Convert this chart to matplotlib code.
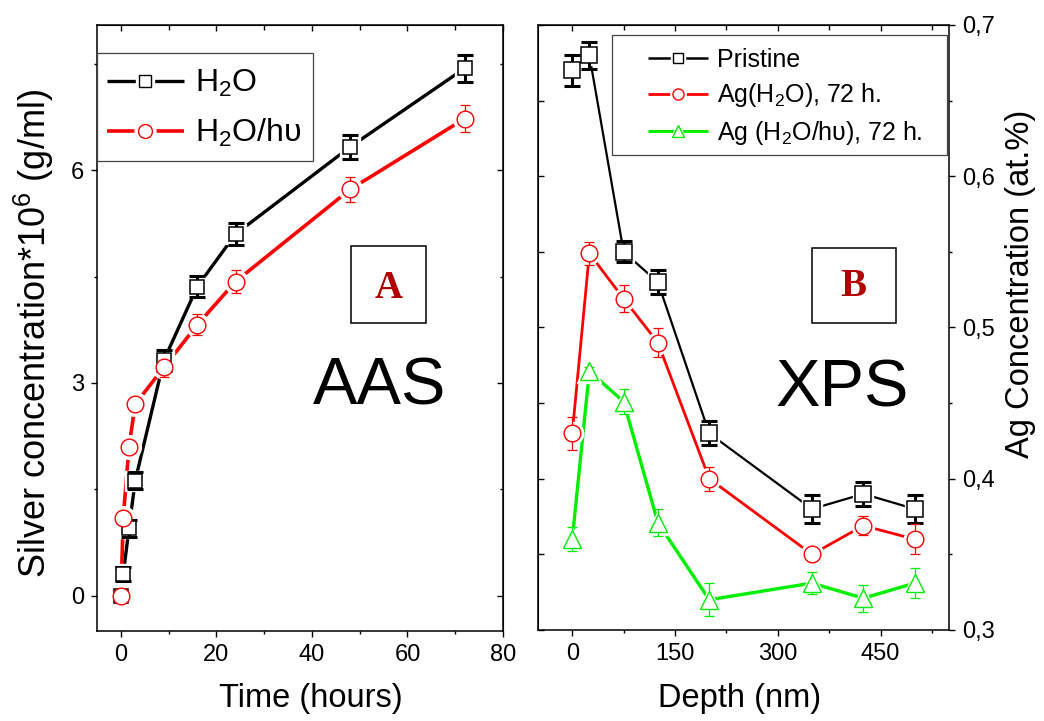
import matplotlib
matplotlib.use("Agg")
import matplotlib.pyplot as plt
from matplotlib.lines import Line2D
from matplotlib.patches import Rectangle
from matplotlib.ticker import FuncFormatter, MultipleLocator

plt.rcParams['font.family'] = ['Liberation Sans', 'DejaVu Sans']
plt.rcParams['mathtext.fontset'] = 'custom'
plt.rcParams['mathtext.rm'] = 'Liberation Sans'
plt.rcParams['mathtext.it'] = 'Liberation Sans:italic'
plt.rcParams['mathtext.bf'] = 'Liberation Sans:bold'

# ---------------- data ----------------
time_h = [0, 0.5, 1.7, 3, 9, 16, 24, 48, 72]
h2o = [0.0, 0.30, 0.95, 1.62, 3.32, 4.36, 5.10, 6.33, 7.44]
h2o_err = [0.0, 0.10, 0.12, 0.12, 0.15, 0.15, 0.155, 0.17, 0.19]
h2o_hv = [0.0, 1.10, 2.10, 2.70, 3.22, 3.82, 4.43, 5.73, 6.73]
h2o_hv_err = [0.0, 0.02, 0.03, 0.04, 0.13, 0.15, 0.165, 0.18, 0.19]

depth = [0, 25, 75, 125, 200, 350, 425, 500]
pristine = [0.670, 0.680, 0.550, 0.530, 0.430, 0.380, 0.390, 0.380]
pristine_err = [0.010, 0.009, 0.007, 0.008, 0.008, 0.009, 0.008, 0.009]
ag_h2o = [0.430, 0.549, 0.519, 0.490, 0.400, 0.350, 0.369, 0.360]
ag_h2o_err = [0.011, 0.0075, 0.009, 0.0095, 0.008, 0.003, 0.0065, 0.010]
ag_h2o_hv = [0.360, 0.471, 0.451, 0.371, 0.320, 0.331, 0.321, 0.331]
ag_h2o_hv_err = [0.008, 0.003, 0.0085, 0.009, 0.011, 0.0075, 0.009, 0.0097]

labels_a = ['H$_2$O', 'H$_2$O/h\u03c5']
labels_b = ['Pristine', 'Ag(H$_2$O), 72 h.', 'Ag (H$_2$O/h\u03c5), 72 h.']

BLACK = 'black'
RED = '#ff0000'
GREEN = '#00ee00'
DARKRED = '#b00000'

W, H = 1044, 721
fig = plt.figure(figsize=(W / 100, H / 100), dpi=100)

def px_axes(l, r, t, b):
    return fig.add_axes([l / W, 1 - b / H, (r - l) / W, (b - t) / H])

axA = px_axes(97, 503, 25, 631)
axB = px_axes(538, 949, 25, 630)


def series(ax, x, y, yerr, color, lw, marker, ms, mew, elw, capsize, capthick, halo=5):
    ax.plot(x, y, color=color, lw=lw, zorder=2, solid_capstyle='butt')
    ax.plot(x, y, ls='none', marker=marker, ms=ms + halo, mfc='white', mec='white', zorder=3)
    ax.errorbar(x, y, yerr=yerr, fmt='none', ecolor=color, elinewidth=elw,
                capsize=capsize, capthick=capthick, zorder=4)
    ax.plot(x, y, ls='none', marker=marker, ms=ms, mfc='white', mec=color, mew=mew, zorder=5)


def handle(color, lw, marker, ms, mew, halo=5):
    l1 = Line2D([], [], color=color, lw=lw, solid_capstyle='butt')
    l2 = Line2D([], [], ls='none', marker=marker, ms=ms + halo, mfc='white', mec='white')
    l3 = Line2D([], [], ls='none', marker=marker, ms=ms, mfc='white', mec=color, mew=mew)
    return (l1, l2, l3)


def style_ticks(ax):
    for s in ax.spines.values():
        s.set_linewidth(1.1)


# ---------------- Panel A ----------------
series(axA, time_h, h2o, h2o_err, BLACK, 2.4, 's', 10, 1.1, 2.2, 6, 2.2)
series(axA, time_h, h2o_hv, h2o_hv_err, RED, 2.6, 'o', 12, 1.0, 0.9, 3.5, 0.9)

axA.set_xlim(-5, 80)
axA.set_ylim(-0.5, 8.05)
axA.xaxis.set_major_locator(MultipleLocator(20))
axA.xaxis.set_minor_locator(MultipleLocator(10))
axA.yaxis.set_major_locator(MultipleLocator(3))
axA.yaxis.set_minor_locator(MultipleLocator(1.5))
axA.tick_params(which='both', direction='out', labelsize=17, width=1.0, pad=5)
axA.tick_params(which='major', length=4.5)
axA.tick_params(which='minor', length=2.5)
style_ticks(axA)

secAx = axA.secondary_xaxis('top')
secAx.xaxis.set_major_locator(MultipleLocator(20))
secAx.xaxis.set_minor_locator(MultipleLocator(10))
secAx.tick_params(which='both', direction='in', labeltop=False, width=1.0)
secAx.tick_params(which='major', length=4.5)
secAx.tick_params(which='minor', length=3.5)
secAy = axA.secondary_yaxis('right')
secAy.yaxis.set_major_locator(MultipleLocator(3))
secAy.yaxis.set_minor_locator(MultipleLocator(1.5))
secAy.tick_params(which='both', direction='in', labelright=False, width=1.0)
secAy.tick_params(which='major', length=4.5)
secAy.tick_params(which='minor', length=2.5)

axA.add_patch(Rectangle((0, 0.776), 0.532, 0.178, transform=axA.transAxes,
                        fill=False, ec='#444444', lw=0.9, zorder=6))
legA = axA.legend([handle(BLACK, 2.4, 's', 8, 1.0), handle(RED, 2.6, 'o', 10, 1.0)],
                  labels_a, loc='upper left', bbox_to_anchor=(0.025, 0.929),
                  frameon=False, fontsize=23, handlelength=2.4, handletextpad=0.35,
                  labelspacing=0.56, borderpad=0, borderaxespad=0)
legA.set_zorder(7)

axA.add_patch(Rectangle((0.626, 0.508), 0.184, 0.127, transform=axA.transAxes,
                        fill=False, ec='black', lw=1.1, zorder=6))
axA.text(0.718, 0.5495, 'A', transform=axA.transAxes, ha='center', va='baseline',
         fontsize=28, fontweight='bold', color=DARKRED, family='Liberation Serif')
axA.text(0.697, 0.373, 'AAS', transform=axA.transAxes, ha='center', va='baseline',
         fontsize=48)

# ---------------- Panel B ----------------
series(axB, depth, pristine, pristine_err, BLACK, 1.6, 's', 11, 1.1, 2.2, 6, 2.2, halo=4)
series(axB, depth, ag_h2o, ag_h2o_err, RED, 2.0, 'o', 12, 1.0, 0.9, 3.5, 0.9, halo=4)
series(axB, depth, ag_h2o_hv, ag_h2o_hv_err, GREEN, 2.4, '^', 13, 1.0, 0.9, 3.5, 0.9, halo=4)

axB.set_xlim(-50, 550)
axB.set_ylim(0.3, 0.7)
axB.xaxis.set_major_locator(MultipleLocator(150))
axB.xaxis.set_minor_locator(MultipleLocator(75))
axB.yaxis.set_major_locator(MultipleLocator(0.1))
axB.yaxis.set_minor_locator(MultipleLocator(0.05))
axB.yaxis.tick_right()
axB.yaxis.set_major_formatter(FuncFormatter(lambda v, p: f'{v:.1f}'.replace('.', ',')))
axB.tick_params(which='both', direction='out', labelsize=17, width=1.0, pad=5)
axB.tick_params(which='major', length=4.5)
axB.tick_params(which='minor', length=2.5)
style_ticks(axB)

secBx = axB.secondary_xaxis('top')
secBx.xaxis.set_major_locator(MultipleLocator(150))
secBx.xaxis.set_minor_locator(MultipleLocator(75))
secBx.tick_params(which='both', direction='in', labeltop=False, width=1.0)
secBx.tick_params(which='major', length=4.5)
secBx.tick_params(which='minor', length=3.5)
secBy = axB.secondary_yaxis('left')
secBy.yaxis.set_major_locator(MultipleLocator(0.1))
secBy.yaxis.set_minor_locator(MultipleLocator(0.05))
secBy.tick_params(which='both', direction='in', labelleft=False, width=1.0)
secBy.tick_params(which='major', length=4.5)
secBy.tick_params(which='minor', length=4.5)

axB.add_patch(Rectangle((0.179, 0.785), 0.816, 0.198, transform=axB.transAxes,
                        fill=False, ec='#444444', lw=0.9, zorder=6))
legB = axB.legend([handle(BLACK, 1.8, 's', 7, 1.0, halo=3),
                   handle(RED, 2.0, 'o', 8, 1.0, halo=3),
                   handle(GREEN, 2.2, '^', 9, 1.0, halo=3)],
                  labels_b, loc='upper left', bbox_to_anchor=(0.268, 0.962),
                  frameon=False, fontsize=18, handlelength=2.4, handletextpad=0.35,
                  labelspacing=0.38, borderpad=0, borderaxespad=0)
legB.set_zorder(7)

axB.add_patch(Rectangle((0.666, 0.508), 0.204, 0.124, transform=axB.transAxes,
                        fill=False, ec='black', lw=1.1, zorder=6))
axB.text(0.767, 0.552, 'B', transform=axB.transAxes, ha='center', va='baseline',
         fontsize=28, fontweight='bold', color=DARKRED, family='Liberation Serif')
axB.text(0.739, 0.369, 'XPS', transform=axB.transAxes, ha='center', va='baseline',
         fontsize=48)

# ---------------- axis labels ----------------
fig.text(311 / W, 1 - 698 / H, 'Time (hours)', ha='center', va='center', fontsize=23.5)
fig.text(740 / W, 1 - 698 / H, 'Depth (nm)', ha='center', va='center', fontsize=23.5)
fig.text(34 / W, 1 - 333 / H, 'Silver concentration*10$^6$ (g/ml)', rotation=90,
         ha='center', va='center', fontsize=26)
fig.text(1020 / W, 1 - 284 / H, 'Ag Concentration (at.%)', rotation=90,
         ha='center', va='center', fontsize=23.5)

fig.savefig('out.png', dpi=100)
